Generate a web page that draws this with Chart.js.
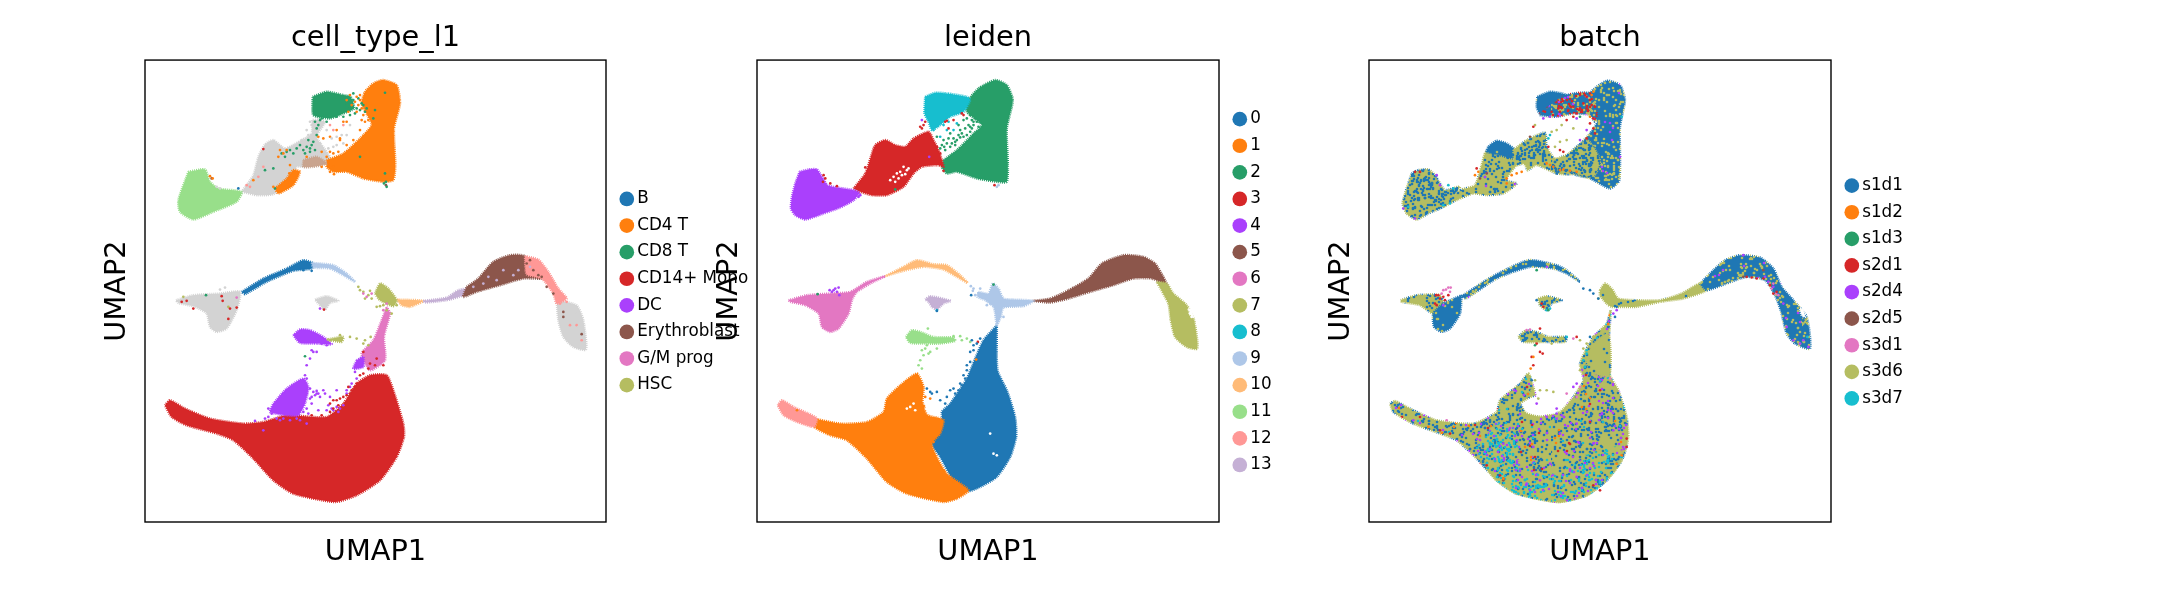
<!DOCTYPE html>
<html lang="en">
<head>
    <meta charset="UTF-8">
    <title>UMAP | cell_type_l1, leiden, batch</title>
    <script src="https://cdn.jsdelivr.net/npm/chart.js"></script>
    <style>
        body { margin: 0; background: #fff; width: 2173px; height: 600px; overflow: hidden; }
        canvas { position: absolute; top: 0; }
    </style>
</head>
<body>
    <canvas id="plot1" style="left:0px"></canvas>
    <canvas id="plot2" style="left:690px"></canvas>
    <canvas id="plot3" style="left:1300px"></canvas>

    <script>
        // Categories of the three colourings
        const cellTypes = ['B', 'CD4 T', 'CD8 T', 'CD14+ Mono', 'DC', 'Erythroblast', 'G/M prog', 'HSC'];
        const leidenGroups = ['0', '1', '2', '3', '4', '5', '6', '7', '8', '9', '10', '11', '12', '13'];
        const batches = ['s1d1', 's1d2', 's1d3', 's2d1', 's2d4', 's2d5', 's3d1', 's3d6', 's3d7'];
        const palette = ['#1f77b4', '#ff7f0e', '#279e68', '#d62728', '#aa40fc', '#8c564b', '#e377c2', '#b5bd61',
            '#17becf', '#aec7e8', '#ffbb78', '#98df8a', '#ff9896', '#c5b0d5'];
        const grey = '#d3d3d3';

        // All coordinates are read off the picture, in UMAP plot units (y runs downwards)
        // --- cell_type_l1: outlines of the dense clouds
        const ctGreyTop = [[335,425],[370,375],[385,320],[405,283],[430,270],[465,295],[515,270],[545,250],[548,210],[585,215],[560,260],[600,325],[520,350],[500,350],[480,395],[430,432],[380,435]];
        const ctGreyLeft = [[138,750],[190,735],[270,730],[330,725],[320,780],[290,835],[260,845],[240,830],[230,790],[195,770],[145,758]];
        const ctGreySmall = [[555,748],[590,738],[625,752],[600,758],[585,778],[565,760]];
        const ctGreyTail = [[1280,750],[1340,765],[1360,810],[1368,898],[1330,890],[1300,860],[1285,810]];
        const ctLightGreen = [[175,365],[225,358],[240,395],[265,415],[335,425],[320,455],[250,485],[190,508],[150,485],[145,450]];
        const ctOrangeBig = [[590,330],[640,310],[690,265],[725,225],[712,195],[695,160],[705,125],[730,100],[760,90],[800,105],[810,160],[792,235],[796,345],[790,390],[760,395],[700,385],[650,365],[610,365],[590,350]];
        const ctOrangeLow = [[435,415],[470,385],[490,360],[510,365],[490,405],[445,430]];
        const ctTan = [[520,330],[560,320],[590,340],[550,350],[520,350]];
        const ctGreen = [[548,140],[590,125],[640,135],[662,140],[672,175],[640,190],[600,205],[550,195]];
        const ctBlue = [[335,725],[400,685],[470,655],[520,630],[550,640],[545,655],[490,662],[410,695],[345,732]];
        const ctLightBlue = [[545,638],[610,645],[650,670],[675,695],[640,675],[600,655],[550,652]];
        const ctHub = [[735,730],[750,700],[775,715],[800,750],[790,768],[750,750]];
        const ctLightOrange = [[800,748],[880,752],[840,770],[815,765]];
        const ctLilac = [[880,752],[950,742],[985,720],[1015,715],[1000,735],[950,750],[885,757]];
        const ctBrown = [[1010,710],[1045,685],[1090,635],[1140,615],[1185,618],[1195,670],[1235,685],[1180,685],[1110,705],[1040,725],[1000,740]];
        const ctSalmon = [[1185,618],[1225,628],[1255,665],[1285,715],[1310,745],[1280,760],[1270,730],[1235,685],[1190,672]];
        const ctPink = [[770,770],[780,790],[762,860],[765,930],[720,960],[695,910],[730,870],[755,810]];
        const ctRed = [[105,1065],[120,1050],[165,1075],[240,1105],[340,1120],[400,1115],[470,1095],[590,1100],[640,1060],[680,1000],[720,975],[770,975],[790,1020],[820,1120],[822,1160],[800,1220],[750,1290],[680,1335],[615,1355],[490,1330],[430,1290],[370,1225],[310,1170],[260,1150],[170,1125],[125,1100]];
        const ctPurpleLow = [[430,1060],[470,1015],[520,985],[535,1010],[525,1060],[505,1095],[470,1095],[420,1085]];
        const ctPurpleTop = [[490,855],[510,838],[540,840],[580,860],[605,882],[560,880],[510,878]];
        const ctPurpleMid = [[680,930],[700,920],[700,950],[670,955]];
        const ctOliveThin = [[590,868],[640,860],[635,875]];

        // --- cell_type_l1: single cells that stand out
        const ctDotsB = [[520,660],[545,662],[325,415]];
        const ctDotsCd4 = [[640,215],[600,260],[630,270],[580,265],[565,260],[470,300],[450,300],[445,320],[620,240],[650,215],[695,210],[660,135],[650,150],[600,305],[530,320],[610,350],[370,390],[430,410],[478,370],[248,385],[240,378],[665,165],[685,165],[655,185],[630,265],[575,305],[680,140],[690,135],[675,155],[690,150],[695,175],[680,185],[700,195],[705,215],[715,210],[690,240],[670,270],[650,285],[625,305],[610,310],[590,320],[480,345],[460,310],[600,365],[612,372],[575,350]];
        const ctDotsCd8 = [[560,235],[555,215],[560,255],[550,275],[530,290],[500,295],[480,300],[455,310],[465,320],[430,355],[435,415],[405,360],[765,128],[765,370],[730,205],[735,180],[690,320],[770,410],[525,918],[228,735],[660,170],[680,175],[705,185],[650,160],[670,150],[690,180],[590,215],[575,205],[520,300],[540,295],[670,130],[685,145],[695,160],[710,175],[700,165],[675,190],[660,195],[640,200],[620,200],[565,225],[570,210],[545,285],[535,270],[510,285],[490,310],[470,305],[555,300],[540,305],[525,310],[762,400],[768,395]];
        const ctDotsMono = [[400,297],[278,752],[300,775],[320,772],[295,806],[190,775],[155,755],[170,752],[582,778],[275,738],[700,905],[720,940],[740,925],[760,945],[610,1050],[630,1045],[655,1010],[690,975],[600,1060],[620,1050],[640,1040],[665,1020],[680,1000],[700,970],[715,955],[735,945],[600,1085],[575,1095],[545,1095],[650,1035],[625,1065],[660,1030],[675,1010],[610,1075]];
        const ctDotsDc = [[545,900],[550,905],[540,925],[530,945],[560,905],[575,880],[590,885],[525,975],[530,985],[620,1020],[650,1020],[665,1000],[680,985],[650,1030],[600,1040],[590,1080],[620,1070],[630,1075],[580,1020],[560,1030],[570,1040],[375,1112],[400,1140],[480,1110],[530,1120],[425,1090],[565,1080],[545,1060],[560,1022],[610,1080],[570,775],[540,1015],[550,1025],[545,1040],[585,1030],[415,1100],[440,1105],[500,1105],[510,1110],[625,1085],[605,1075],[640,1065],[660,1010],[675,965],[685,950],[530,1075],[540,1045],[555,1035],[520,1085],[535,1090],[460,1105],[450,1110],[415,1075],[405,1105],[595,1065],[565,1030],[530,1030]];
        const ctDotsEry = [[1300,785],[1300,800],[1355,852],[1235,680],[1250,710],[1270,730],[1180,655],[245,385],[768,405],[1200,630],[1210,660],[1225,675],[1190,640]];
        const ctDotsGm = [[700,730],[710,740],[725,730],[320,742],[760,780],[770,760]];
        const ctDotsHsc = [[685,710],[700,725],[715,735],[725,745],[740,770],[760,765],[800,765],[785,790],[660,860],[680,865],[700,880],[722,860],[715,885],[630,855],[600,870],[295,770],[160,740],[690,720],[705,745],[720,722],[750,768],[770,780],[705,870]];
        const ctDotsGrey = [[540,215],[530,240],[515,270],[590,240],[620,260],[610,290],[650,255],[575,290],[640,280],[260,410],[270,415],[285,712],[270,718],[1340,790],[1345,830],[545,225],[560,275],[570,280],[605,265],[620,285],[635,255],[660,225],[535,255],[595,295],[585,310]];
        const ctDotsPale = [[610,240],[600,225],[640,225],[400,350],[385,380],[360,410],[350,405],[1300,745],[1320,825],[1340,825],[1355,870],[1290,760],[1310,755]];
        const ctDotsLilac = [[1030,710],[1060,700],[1100,690],[1150,675],[1165,660],[1200,650],[1075,680],[1120,660]];

        // --- leiden: outlines
        const ld0 = [[770,825],[772,960],[800,1020],[825,1100],[828,1160],[810,1220],[770,1280],[720,1310],[685,1322],[640,1290],[600,1220],[575,1180],[605,1115],[605,1085],[630,1060],[680,985],[705,925],[730,870]];
        const ld1 = [[222,1105],[300,1120],[380,1115],[430,1085],[440,1045],[480,1005],[530,970],[550,1010],[548,1060],[590,1100],[610,1110],[600,1150],[575,1180],[590,1220],[620,1270],[685,1320],[650,1345],[610,1355],[500,1330],[440,1295],[380,1225],[320,1170],[270,1155],[222,1130]];
        const ld2 = [[610,330],[650,300],[700,250],[725,225],[680,185],[685,150],[715,115],[765,90],[800,105],[818,150],[800,235],[803,340],[800,395],[770,395],[710,385],[650,365],[620,370],[605,350]];
        const ld3 = [[340,415],[375,370],[392,320],[405,285],[435,270],[465,285],[495,290],[520,265],[565,245],[580,270],[595,300],[605,330],[610,350],[595,345],[545,350],[520,370],[490,410],[440,435],[395,435],[360,425]];
        const ld4 = [[178,365],[205,358],[230,358],[245,380],[262,405],[290,412],[340,420],[358,428],[340,450],[300,472],[250,490],[195,508],[165,495],[152,475],[155,440],[165,400]];
        const ld5 = [[878,752],[930,745],[985,720],[1045,685],[1085,640],[1150,615],[1210,620],[1245,640],[1270,680],[1285,715],[1260,695],[1235,685],[1180,685],[1120,705],[1050,725],[985,745],[930,757]];
        const ld6 = [[145,750],[200,735],[270,730],[330,725],[380,695],[435,678],[400,695],[350,725],[335,750],[325,790],[295,835],[270,845],[245,830],[235,790],[195,765],[150,755]];
        const ld7 = [[1250,695],[1280,700],[1300,730],[1340,765],[1362,810],[1372,895],[1340,890],[1305,860],[1292,810],[1285,760]];
        const ld8 = [[555,140],[585,128],[620,130],[680,140],[690,150],[670,185],[630,200],[600,225],[575,240],[565,215],[553,190]];
        const ld9 = [[715,725],[745,730],[758,700],[775,715],[790,745],[820,748],[880,752],[850,768],[790,772],[782,800],[770,825],[765,790],[760,770],[735,750],[712,740]];
        const ld10 = [[435,678],[490,650],[530,630],[580,642],[620,645],[660,675],[682,698],[650,680],[610,658],[550,650],[490,662]];
        const ld11 = [[497,860],[515,840],[540,845],[580,860],[640,862],[645,872],[600,880],[560,880],[510,878]];
        const ld12 = [[112,1065],[125,1050],[160,1070],[205,1090],[230,1105],[222,1130],[170,1115],[130,1095]];
        const ld13 = [[555,748],[570,738],[632,752],[610,760],[590,778],[575,770],[565,755]];
        const ldHoleOrange = [[555,1075],[565,1050],[590,1075],[600,1098],[565,1092]];
        const ldHoleTail = [[1345,775],[1355,780],[1360,800],[1352,795]];
        // gaps that show up as white specks inside the clouds
        const ldSpecks = [[450,390],[460,380],[470,370],[480,365],[490,350],[500,360],[475,385],[465,395],[485,375],[495,372],[505,355],[510,1070],[520,1060],[525,1080],[500,1075],[595,1060],[760,1210],[750,1150],[770,1215],[1350,790],[1355,800]];

        // --- leiden: single cells
        const ldDots0 = [[560,1015],[570,1025],[590,1025],[575,1030],[600,1050],[620,1040],[630,1020],[640,1015],[690,935],[680,960],[670,975],[700,900],[695,870],[693,735],[590,782],[645,1265],[625,1250],[655,1020],[665,1005],[650,1040],[615,1060],[680,945],[690,905],[710,880],[720,865],[700,885],[675,985],[660,1000],[645,1030]];
        const ldDots1 = [[170,1080],[708,928],[570,1045],[555,1040],[610,1260],[640,1295],[580,1175]];
        const ldDots2 = [[610,270],[620,280],[630,290],[650,270],[670,260],[690,245],[680,205],[695,210],[710,215],[715,230],[660,240],[640,265],[600,295],[590,260],[630,250],[232,732],[465,418],[760,703],[720,215],[700,225],[670,210],[655,225],[645,285],[685,225],[675,235],[695,235],[665,250],[705,205],[690,195],[725,235],[680,255],[655,255],[615,300],[605,285],[625,265],[645,275],[660,262],[612,290],[635,280],[690,230],[700,215]];
        const ldDots3 = [[550,225],[540,230],[555,215],[615,215],[625,235],[665,190],[670,195],[600,335],[605,345],[250,375],[255,385],[270,400],[290,408],[248,395],[763,405],[713,875],[375,352],[620,212],[640,210],[600,310],[590,290],[610,362],[545,235]];
        const ldDots4 = [[268,720],[280,720],[290,725],[295,712],[297,735],[275,725],[285,715],[545,210],[567,320],[360,435],[355,440]];
        const ldDots8 = [[620,240],[640,240],[600,260],[590,228],[650,220],[590,780],[610,225],[625,215],[580,240]];
        const ldDots9 = [[770,410],[775,405],[700,715],[715,730],[790,800],[750,760],[740,765],[692,708],[698,722],[705,735],[720,715],[770,785]];
        const ldDots11 = [[563,835],[560,885],[545,900],[570,905],[550,915],[540,930],[535,945],[545,955],[590,895],[640,858],[660,858],[665,870],[690,875],[680,865],[565,910],[555,895]];

        // --- batch: outlines of the regions where one mix of batches dominates
        const btBlobLeft = [[155,370],[175,360],[205,358],[225,375],[240,400],[255,420],[300,410],[250,470],[205,490],[170,508],[140,490],[128,460],[135,430]];
        const btTail = [[250,470],[300,420],[345,405],[365,345],[378,305],[420,310],[465,330],[470,350],[440,390],[470,400],[430,430],[380,435],[340,430],[290,450]];
        const btCap = [[378,305],[385,290],[410,272],[440,280],[465,300],[460,325],[420,315]];
        const btBand = [[460,300],[500,270],[555,248],[560,290],[585,325],[640,310],[640,370],[590,370],[530,345],[495,365],[465,350]];
        const btRight = [[640,305],[690,250],[712,215],[700,190],[690,130],[740,92],[780,105],[795,150],[780,230],[778,390],[750,415],[690,385],[640,370]];
        const btRightLow = [[600,335],[680,270],[720,330],[700,380],[640,368]];
        const btBarLeft = [[532,140],[570,125],[620,135],[620,160],[540,190],[530,170]];
        const btBarMid = [[540,190],[620,135],[690,130],[710,190],[705,215],[690,195],[640,190],[590,200],[540,195]];
        const btHoleLower = [[470,350],[490,345],[500,370],[480,390],[445,385]];
        const btBody = [[90,1060],[105,1052],[150,1075],[230,1110],[340,1120],[410,1085],[420,1050],[480,1000],[505,970],[520,1010],[530,1045],[560,1090],[600,1085],[640,1040],[670,990],[660,940],[700,860],[740,820],[752,780],[745,900],[750,975],[775,1020],[800,1100],[805,1160],[790,1220],[740,1290],[680,1335],[595,1355],[470,1330],[410,1290],[350,1225],[290,1170],[240,1150],[160,1120],[100,1085]];
        const btBodyCyan = [[345,1195],[430,1110],[470,1160],[480,1260],[600,1270],[690,1210],[780,1190],[785,1230],[740,1290],[680,1335],[595,1355],[470,1330],[410,1290]];
        const btStem = [[700,880],[745,850],[748,975],[690,965],[680,920]];
        const btBodyHole = [[485,1060],[510,1045],[530,1040],[560,1070],[590,1085],[540,1095],[500,1085]];
        const btMidLeft = [[122,750],[170,735],[240,735],[250,760],[220,790],[180,765],[125,755]];
        const btMidDrop = [[305,735],[300,790],[270,835],[245,845],[222,830],[220,790],[250,760]];
        const btArc = [[305,738],[395,680],[505,630],[590,645],[620,660],[660,695],[620,670],[580,655],[510,650],[410,685],[318,745]];
        const btHub = [[720,720],[735,700],[755,715],[775,745],[830,750],[900,750],[965,730],[1020,700],[1040,720],[970,745],[900,755],[830,770],[790,770],[755,770],[740,760],[720,735]];
        const btHill = [[1020,700],[1060,660],[1095,630],[1140,615],[1200,622],[1240,655],[1265,710],[1300,750],[1340,800],[1350,895],[1305,880],[1280,850],[1262,780],[1245,735],[1215,690],[1160,680],[1100,700],[1040,720]];
        const btLow = [[475,860],[495,842],[530,845],[565,860],[620,860],[615,875],[570,875],[490,875]];
        const btSmall = [[535,745],[560,738],[605,750],[575,760],[560,780],[540,765]];
        const btHoleTail = [[1320,775],[1330,780],[1335,800],[1325,795]];

        // --- batch: single cells
        const btDots1 = [[670,715],[690,720],[700,730],[715,745],[765,800],[770,770],[530,750],[515,990],[1330,810],[690,860],[590,370],[595,365]];
        const btDots2 = [[580,350],[600,360],[650,365],[440,385],[470,370],[345,375],[205,1130],[430,1285],[520,920],[512,955],[785,1215],[770,1240],[690,200],[700,125],[570,345],[560,340],[610,358],[630,362],[455,375],[485,365],[355,365],[440,400],[695,135]];
        const btDots3 = [[530,660],[565,780],[525,885],[650,300],[660,200]];
        const btDots4 = [[680,140],[690,150],[670,160],[640,170],[600,185],[575,185],[620,210],[640,200],[690,220],[700,235],[680,265],[600,300],[610,305],[565,290],[520,230],[350,355],[180,365],[165,365],[228,735],[240,745],[250,740],[265,735],[225,760],[230,765],[545,760],[550,770],[540,835],[515,920],[520,945],[540,905],[548,910],[530,880],[650,860],[720,1020],[1160,680],[1190,685],[1240,730],[1250,725],[700,1305],[800,1165],[430,1285],[420,1275],[380,1245],[270,1150],[240,1140],[695,165],[680,175],[660,175],[625,180],[595,175],[555,185],[700,205],[705,250],[690,130],[675,135],[650,190],[705,170],[235,735],[255,750],[1175,682],[1210,685],[1230,705],[800,1190],[720,1320]];
        const btDots5 = [[570,200],[650,205],[680,240],[660,270],[780,320],[230,375],[240,405],[590,1075],[560,1100],[590,1105],[640,1010],[650,1000],[530,1060],[760,790],[770,780],[1215,680],[1240,710],[1330,870],[1345,890],[1320,880],[165,505],[130,475],[250,765],[600,1150],[470,1170],[520,1190],[430,1180],[650,1120],[700,1180],[760,1140],[540,1290],[500,1300],[650,1280],[620,1210],[570,1240],[1150,615],[1270,760],[1280,830],[1300,870],[1225,695],[550,205],[600,195],[590,1090],[605,1095],[700,205],[160,1110]];
        const btDots6 = [[510,260],[380,370],[360,385],[1210,660],[1150,680],[430,1290]];
        const btDots7 = [[250,720],[265,712],[270,725],[245,730],[1240,700],[1255,735],[660,1010],[500,840],[510,838],[640,865],[750,985],[620,1030],[650,1040],[258,718],[272,712],[1235,715],[1248,730],[260,1110]];
        const btDots8 = [[590,240],[600,275],[620,270],[640,235],[515,1020],[525,990],[510,980],[560,1020],[575,880],[660,870],[670,895],[715,745],[1330,820],[600,1100],[535,1045],[575,245],[605,225],[585,290],[525,225],[540,1020],[580,1025],[670,1030],[660,960],[680,880],[700,860]];
        const btDots9 = [[565,265],[570,255],[265,405],[280,415],[250,465],[785,200],[560,780],[570,775],[680,900],[680,910],[620,860],[1342,860],[475,1330],[510,1335],[145,470],[270,460],[670,930],[675,950]];

        // Fill texture only (a tile of grains in fixed positions), no data in here
        function speckle(base, mix) {
            const size = 251;
            const tile = document.createElement('canvas');
            tile.width = tile.height = size;
            const tctx = tile.getContext('2d');
            tctx.fillStyle = base;
            tctx.fillRect(0, 0, size, size);
            let seed = 4242;
            const next = () => (seed = (seed * 16807) % 2147483647) % size;
            mix.forEach(([color, share]) => {
                tctx.fillStyle = color;
                const grains = Math.round(share * size * size / 5.3);
                for (let i = 0; i < grains; i++) {
                    tctx.beginPath();
                    tctx.arc(next(), next(), 1.3, 0, Math.PI * 2);
                    tctx.fill();
                }
            });
            return tctx.createPattern(tile, 'repeat');
        }

        const blue = palette[0], orange = palette[1], olive = palette[7], purple = palette[4], cyan = palette[8], red = palette[3];
        const oliveMix = speckle(olive, [[blue, 0.25], [purple, 0.01]]);
        const blueMix = speckle(blue, [[olive, 0.25], [purple, 0.015]]);
        const evenMix = speckle(olive, [[blue, 0.5]]);
        const redMix = speckle(blue, [[olive, 0.3], [red, 0.2], [purple, 0.05]]);
        const bodyMix = speckle(olive, [[blue, 0.28], [purple, 0.05], [cyan, 0.02], [red, 0.01], [orange, 0.01]]);
        const cyanMix = speckle(olive, [[blue, 0.22], [cyan, 0.28], [purple, 0.05]]);
        const pureBlue = speckle(blue, [[olive, 0.06]]);
        const pureOlive = speckle(olive, [[blue, 0.06]]);

        function toPoints(list) {
            return list.map(([x, y]) => ({ x, y }));
        }

        // one cloud outline, drawn by the line element as a closed filled shape
        function cloud(list, color) {
            return {
                label: '',
                data: toPoints(list.concat([list[0]])),
                showLine: true,
                fill: 'shape',
                tension: 0.2,
                backgroundColor: color,
                borderColor: color,
                borderWidth: 2.5,
                borderDash: [1, 1],
                pointRadius: 0
            };
        }

        // the loose cells of one category; it also gives the legend its entry
        function dots(label, list, color) {
            return { label, data: toPoints(list), backgroundColor: color, borderWidth: 0, pointRadius: 1.35 };
        }

        const framePlugin = {
            id: 'frame',
            afterDatasetsDraw(chart) {
                const { left, top, width, height } = chart.chartArea;
                chart.ctx.strokeStyle = '#000';
                chart.ctx.lineWidth = 1.4;
                chart.ctx.strokeRect(left, top, width, height);
            },
            // legend sits just right of the frame, in the space outside the axes
            afterLayout(chart) {
                const legend = chart.legend;
                legend.left = chart.chartArea.right + 9;
                legend.right = chart.width;
                legend.width = legend.right - legend.left;
                legend.top = chart.chartArea.top + 1;
                legend.bottom = chart.chartArea.bottom + 1;
                legend.height = legend.bottom - legend.top;
            }
        };

        function drawPanel(id, title, canvasLeft, canvasWidth, frameLeft, frameRight, xRange, clouds, loose) {
            const canvas = document.getElementById(id);
            canvas.width = canvasWidth;
            canvas.height = 600;
            // later outlines lie on top of earlier ones, loose cells on top of everything
            const datasets = loose.concat(clouds).map((d, i) => ({ ...d, order: d.label ? i - 100 : (d.showLine ? 1000 - i : -200) }));
            const font = { family: '"DejaVu Sans"', size: 28.8 };
            return new Chart(canvas.getContext('2d'), {
                type: 'scatter',
                data: { datasets },
                options: {
                    responsive: false,
                    animation: false,
                    events: [],
                    layout: { padding: { left: frameLeft - canvasLeft - 60, right: canvasLeft + canvasWidth - frameRight, top: 0, bottom: 0 } },
                    scales: {
                        x: {
                            min: xRange[0], max: xRange[1],
                            grid: { display: false }, border: { display: false }, ticks: { display: false },
                            title: { display: true, text: 'UMAP1', font, color: '#000', padding: { top: 0, bottom: 30 } },
                            afterFit(scale) { scale.height = 78; }
                        },
                        y: {
                            reverse: true,
                            min: 30, max: 1415,
                            grid: { display: false }, border: { display: false }, ticks: { display: false },
                            title: { display: true, text: 'UMAP2', font, color: '#000', padding: { top: 15.5, bottom: 0 } },
                            afterFit(scale) { scale.width = 60; }
                        }
                    },
                    plugins: {
                        tooltip: { enabled: false },
                        title: { display: true, text: title, font: { ...font, weight: 'normal' }, color: '#000', fullSize: false, padding: { top: 21.5, bottom: 4 } },
                        legend: {
                            position: 'chartArea',
                            fullSize: false,
                            labels: {
                                usePointStyle: true,
                                pointStyle: 'circle',
                                boxWidth: 4,
                                boxHeight: 10.4,
                                padding: 9.8,
                                color: '#000',
                                font: { family: '"DejaVu Sans"', size: 16.8 },
                                filter: item => item.text !== ''
                            }
                        }
                    }
                },
                plugins: [framePlugin]
            });
        }

        drawPanel('plot1', 'cell_type_l1', 0, 760, 145, 606, [45, 1428], [
            cloud(ctGreyTop, grey), cloud(ctGreyLeft, grey), cloud(ctGreySmall, grey), cloud(ctGreyTail, grey),
            cloud(ctLightGreen, palette[11]), cloud(ctOrangeBig, palette[1]), cloud(ctOrangeLow, palette[1]),
            cloud(ctTan, '#c9a48e'), cloud(ctGreen, palette[2]), cloud(ctBlue, palette[0]), cloud(ctLightBlue, palette[9]),
            cloud(ctLightOrange, palette[10]), cloud(ctLilac, palette[13]), cloud(ctBrown, palette[5]), cloud(ctSalmon, palette[12]),
            cloud(ctPink, palette[6]), cloud(ctRed, palette[3]), cloud(ctPurpleLow, palette[4]), cloud(ctPurpleTop, palette[4]),
            cloud(ctPurpleMid, palette[4]), cloud(ctHub, palette[7]), cloud(ctOliveThin, palette[7])
        ], [
            dots('B', ctDotsB, palette[0]), dots('CD4 T', ctDotsCd4, palette[1]), dots('CD8 T', ctDotsCd8, palette[2]),
            dots('CD14+ Mono', ctDotsMono, palette[3]), dots('DC', ctDotsDc, palette[4]), dots('Erythroblast', ctDotsEry, palette[5]),
            dots('G/M prog', ctDotsGm, palette[6]), dots('HSC', ctDotsHsc, palette[7]),
            dots('', ctDotsGrey, grey), dots('', ctDotsPale, palette[12]), dots('', ctDotsLilac, palette[13])
        ]);

        const ldDots = { 0: ldDots0, 1: ldDots1, 2: ldDots2, 3: ldDots3, 4: ldDots4, 8: ldDots8, 9: ldDots9, 11: ldDots11 };
        drawPanel('plot2', 'leiden', 690, 760, 757, 1219, [50, 1437], [
            cloud(ld0, palette[0]), cloud(ld1, palette[1]), cloud(ld2, palette[2]), cloud(ld3, palette[3]), cloud(ld4, palette[4]),
            cloud(ld5, palette[5]), cloud(ld6, palette[6]), cloud(ld7, palette[7]), cloud(ld8, palette[8]), cloud(ld9, palette[9]),
            cloud(ld10, palette[10]), cloud(ld11, palette[11]), cloud(ld12, palette[12]), cloud(ld13, palette[13]),
            cloud(ldHoleOrange, '#fff'), cloud(ldHoleTail, '#fff')
        ], leidenGroups.map((g, i) => dots(g, ldDots[i] || [], palette[i])).concat([dots('', ldSpecks, '#fff')]));

        drawPanel('plot3', 'batch', 1300, 873, 1369, 1831, [27, 1413], [
            cloud(btBody, bodyMix), cloud(btBodyCyan, cyanMix), cloud(btStem, pureOlive), cloud(btBodyHole, '#fff'),
            cloud(btBlobLeft, evenMix), cloud(btTail, oliveMix), cloud(btCap, pureBlue), cloud(btBand, evenMix),
            cloud(btRight, blueMix), cloud(btRightLow, evenMix), cloud(btBarLeft, pureBlue), cloud(btBarMid, redMix), cloud(btHoleLower, '#fff'),
            cloud(btMidLeft, oliveMix), cloud(btMidDrop, pureBlue), cloud(btArc, blueMix), cloud(btHub, pureOlive),
            cloud(btHill, blueMix), cloud(btLow, evenMix), cloud(btSmall, evenMix), cloud(btHoleTail, '#fff')
        ], batches.map((b, i) => dots(b, [btDots1, btDots2, btDots3, btDots4, btDots5, btDots6, btDots7, btDots8, btDots9][i], palette[i])));
    </script>
</body>
</html>
